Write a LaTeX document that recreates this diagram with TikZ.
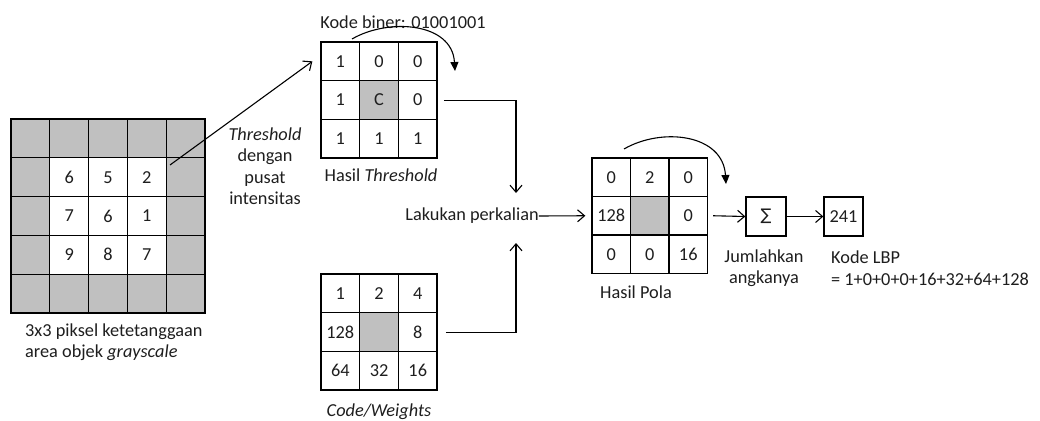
\documentclass[tikz,border=0pt]{standalone}
\usepackage{fontspec}
\setmainfont{Carlito}
\newfontfamily\symfont{DejaVu Sans}
\usetikzlibrary{arrows.meta}
\definecolor{cellgray}{RGB}{192,192,192}
\definecolor{ink}{RGB}{30,30,30}
\begin{document}
\begin{tikzpicture}[x=1pt,y=-1pt,
  every node/.style={font=\fontsize{18.3pt}{21.5pt}\selectfont, inner sep=0pt, text=ink},
  cell/.style={draw, line width=1.3pt, minimum width=38.7pt, minimum height=38.7pt},
  bigcell/.style={cell, minimum width=38.8pt, minimum height=38.8pt},
  shade/.style={fill=cellgray},
  label/.style={align=center},
  flow/.style={line width=1.1pt, -{Straight Barb[length=7pt,width=12pt,line width=1.1pt]}},
  order/.style={line width=1.1pt, -{Triangle[length=9pt,width=8pt]}}]
\useasboundingbox (0,0) rectangle (1040,420);

% 5x5 grayscale neighbourhood with the 3x3 window in the middle
\foreach \r in {0,...,4}
  \foreach \c in {0,...,4}
    \node[bigcell, shade] (g\r\c) at ({11+19.4+38.8*\c},{119+19.4+38.8*\r}) {};
\foreach \r/\c/\v in {1/1/6,1/2/5,1/3/2,2/1/7,2/2/6,2/3/1,3/1/9,3/2/8,3/3/7}
  \node[bigcell, fill=white] at (g\r\c) {\v};
\node[align=left, anchor=west] (glabel) at (25,342)
  {3x3 piksel ketetanggaan\\area objek \textit{grayscale}};

% thresholded window
\foreach \r/\c/\v in {0/0/1,0/1/0,0/2/0,1/0/1,1/2/0,2/0/1,2/1/1,2/2/1}
  \node[cell] (t\r\c) at ({321+19.35+38.7*\c},{42+19.35+38.7*\r}) {\v};
\node[cell, shade] (t11) at ({321+19.35+38.7},{42+19.35+38.7}) {C};
\node (kode) at (403,22) {Kode biner: 01001001};
\node (hasilt) at (381,175) {Hasil \textit{Threshold}};
\node[label] (thlabel) at (265,166)
  {\textit{Threshold}\\dengan\\pusat\\intensitas};

% weight mask
\foreach \r/\c/\v in {0/0/1,0/1/2,0/2/4,1/0/128,1/2/8,2/0/64,2/1/32,2/2/16}
  \node[cell] (w\r\c) at ({321+19.35+38.7*\c},{274+19.35+38.7*\r}) {\v};
\node[cell, shade] (w11) at ({321+19.35+38.7},{274+19.35+38.7}) {};
\node (weights) at (379,412) {\textit{Code/Weights}};

% multiplication step
\node (lak) at (472,216) {Lakukan perkalian};
\coordinate (downend) at (516,193);
\coordinate (upend) at (516,243);

% product pattern
\foreach \r/\c/\v in {0/0/0,0/1/2,0/2/0,1/0/128,1/2/0,2/0/0,2/1/0,2/2/16}
  \node[cell, minimum width=38.5pt, minimum height=38.5pt] (p\r\c)
    at ({592+19.25+38.5*\c},{158+19.25+38.5*\r}) {\v};
\node[cell, shade, minimum width=38.5pt, minimum height=38.5pt] (p11)
  at ({592+19.25+38.5},{158+19.25+38.5}) {};
\node (hasilp) at (636,292) {Hasil Pola};

% sum and result
\node[draw, line width=1.3pt, minimum width=40pt, minimum height=39pt] (sum) at (766,216.5) {{\symfont\fontsize{16pt}{16pt}\selectfont ∑}};
\node[draw, line width=1.3pt, minimum width=39pt, minimum height=39pt] (lbp) at (843.5,216.5) {241};
\node[label] (jml) at (764,268) {Jumlahkan\\angkanya};
\node[align=left, anchor=west] (lbplabel) at (831,268)
  {Kode LBP\\= 1+0+0+0+16+32+64+128};

% connectors
\coordinate (gstart) at (170,165);
\draw[flow] (gstart) -- ([xshift=-8pt]t00.west);
\draw[flow] ([xshift=6pt]t12.east) -| (downend);
\draw[flow] ([xshift=8pt]w12.east) -| (upend);
\draw[flow] (lak.east) -- ([xshift=-6pt]p10.west);
\draw[flow] ([xshift=5pt]p12.east) -- (sum.west);
\draw[flow] (sum.east) -- (lbp.west);

% reading order of the bits
\coordinate (ta) at (352,39);
\coordinate (tb) at (455,71);
\draw[order] (ta) .. controls (388,18) and (452,22) .. (tb);
\coordinate (pa) at (624,149);
\coordinate (pb) at (726,184);
\draw[order] (pa) .. controls (662,127) and (723,134) .. (pb);
\end{tikzpicture}
\end{document}
